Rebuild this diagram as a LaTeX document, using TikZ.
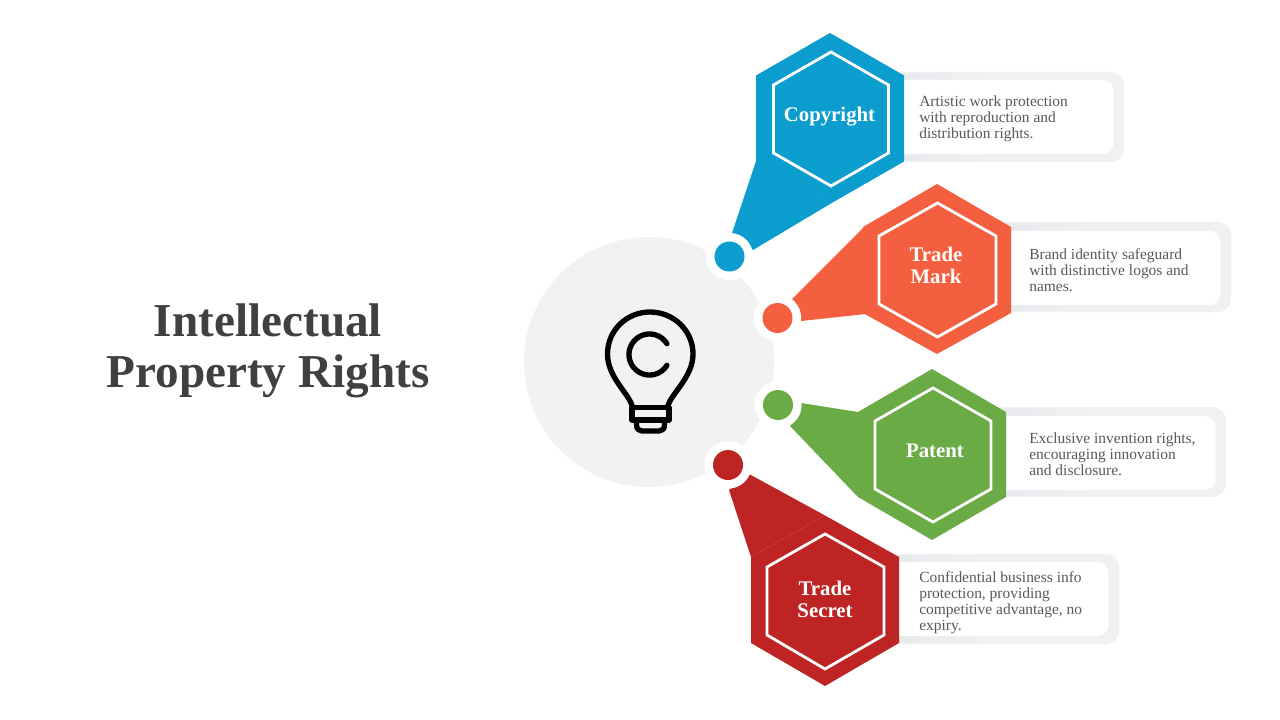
\documentclass[tikz,border=0pt]{standalone}
\usepackage{fontspec}
\setmainfont{Liberation Serif}
\definecolor{cblue}{HTML}{0B9DCE}
\definecolor{corange}{HTML}{F45F40}
\definecolor{cgreen}{HTML}{6AAB45}
\definecolor{cred}{HTML}{BE2424}
\definecolor{cdisc}{HTML}{F2F2F2}
\definecolor{ctitle}{HTML}{404040}
\definecolor{cbody}{HTML}{595959}
\definecolor{cardl}{HTML}{E5E8EC}
\definecolor{cardr}{HTML}{F0F1F2}
\tikzset{
  disc/.style={circle,fill=cdisc,inner sep=0pt,minimum size=187.5pt},
  halo/.style={circle,fill=white,inner sep=0pt,minimum size=35.5pt},
  dot/.style={circle,inner sep=0pt,minimum size=22.5pt},
  cardouter/.style={rounded corners=10pt,fill=cardr},
  cardfade/.style={left color=cardl,right color=cardr},
  cardinner/.style={rounded corners=8pt,fill=white},
  innerhex/.style={draw=white,line width=2.1pt,miter limit=10},
  hexlabel/.style={text=white,align=center,inner sep=0pt,font=\fontsize{15.6}{16.5}\selectfont\bfseries},
  bodytext/.style={text=cbody,align=left,anchor=west,inner sep=0pt,font=\fontsize{11.6}{12}\selectfont},
  titletext/.style={text=ctitle,align=center,inner sep=0pt,font=\fontsize{35.4}{38.2}\selectfont\bfseries},
  bulb/.style={draw=black,line width=4pt,line cap=round,line join=round}
}
\newcommand{\infocard}[6]{%
  \fill[cardouter] (#1,#2) rectangle (#3,#4);
  \fill[cardfade] (#1,#2+1.2) rectangle (#1+110,#4-1.2);
  \fill[cardinner] (#1,#5) rectangle (#3-10.5,#6);
}
\begin{document}
\begin{tikzpicture}[x=0.75pt,y=-0.75pt]
\useasboundingbox (0,0) rectangle (1280,720);

\node[titletext] (title) at (268,351) {Intellectual\\Property Rights};

\node[disc] (center) at (649,362) {};

% bulb icon
\draw[bulb] (632.5,407.5) .. controls (630,394) and (607.5,378) .. (607.5,354)
  .. controls (607.5,330.5) and (626.5,312) .. (650,312)
  .. controls (673.5,312) and (693,330.5) .. (693,354)
  .. controls (693,378) and (670,394) .. (667.5,407.5);
\draw[bulb] (632,407.5) -- (669,407.5) -- (669,420) -- (632,420) -- cycle;
\draw[bulb] (636.5,420) -- (636.5,425) .. controls (636.5,429) and (639,431) .. (642,431)
  -- (659,431) .. controls (662,431) and (664.5,429) .. (664.5,425) -- (664.5,420);
\draw[bulb,domain=32:328,samples=70,variable=\t] plot ({649.5+20.5*cos(\t)},{354.5-20.5*sin(\t)});

% cards
\infocard{880}{72}{1124}{162}{80}{154}
\infocard{985}{222}{1231}{312}{231}{305}
\infocard{980}{407}{1226}{497}{416}{490}
\infocard{875}{554}{1119}{644}{562}{636}

% tails and hexagons
\fill[cblue] (756,161) -- (732,233) -- (753,250) -- (830,204) -- cycle;
\fill[cblue] (830,33) -- (904,75.5) -- (904,161.5) -- (830,204) -- (756,161.5) -- (756,75.5) -- cycle;
\draw[innerhex] (831,52) -- (888.5,85) -- (888.5,153) -- (831,186) -- (773.5,153) -- (773.5,85) -- cycle;

\fill[corange] (864,227) -- (792,299) -- (801,321) -- (866,314) -- cycle;
\fill[corange] (937,184) -- (1011,227) -- (1011,313) -- (937,354) -- (863,313) -- (863,227) -- cycle;
\draw[innerhex] (937.5,203) -- (996,236) -- (996,304) -- (937.5,337) -- (879,304) -- (879,236) -- cycle;

\fill[cgreen] (858,412) -- (801,403) -- (790,426) -- (858,497) -- cycle;
\fill[cgreen] (932,369) -- (1006,412) -- (1006,497) -- (932,540) -- (858,497) -- (858,412) -- cycle;
\draw[innerhex] (933,388) -- (991,421) -- (991,489) -- (933,522) -- (875,489) -- (875,421) -- cycle;

\fill[cred] (751,557) -- (729,490) -- (749,474) -- (825,515.5) -- cycle;
\fill[cred] (825,515.5) -- (899,557) -- (899,643) -- (825,686) -- (751,643) -- (751,557) -- cycle;
\draw[innerhex] (825,534) -- (884,567) -- (884,635) -- (825,669) -- (767,635) -- (767,567) -- cycle;

% halos and dots
\node[halo] (h1) at (729.5,256.5) {};
\node[halo] (h2) at (777.5,318) {};
\node[halo] (h3) at (778,405) {};
\node[halo] (h4) at (728,465) {};
\node[dot,fill=cblue] (d1) at (729.5,256.5) {};
\node[dot,fill=corange] (d2) at (777.5,318) {};
\node[dot,fill=cgreen] (d3) at (778,405) {};
\node[dot,fill=cred] (d4) at (728,465) {};

% labels
\node[hexlabel] (l1) at (829.5,117) {Copyright};
\node[hexlabel] (l2) at (936,265.5) {Trade\\Mark};
\node[hexlabel] (l3) at (935,451) {Patent};
\node[hexlabel] (l4) at (825,599.5) {Trade\\Secret};

\node[bodytext] (t1) at (919,119) {Artistic work protection\\with reproduction and\\distribution rights.};
\node[bodytext] (t2) at (1029,270.5) {Brand identity safeguard\\with distinctive logos and\\names.};
\node[bodytext] (t3) at (1029,454) {Exclusive invention rights,\\encouraging innovation\\and disclosure.};
\node[bodytext] (t4) at (919,603) {Confidential business info\\protection, providing\\competitive advantage, no\\expiry.};
\end{tikzpicture}
\end{document}
